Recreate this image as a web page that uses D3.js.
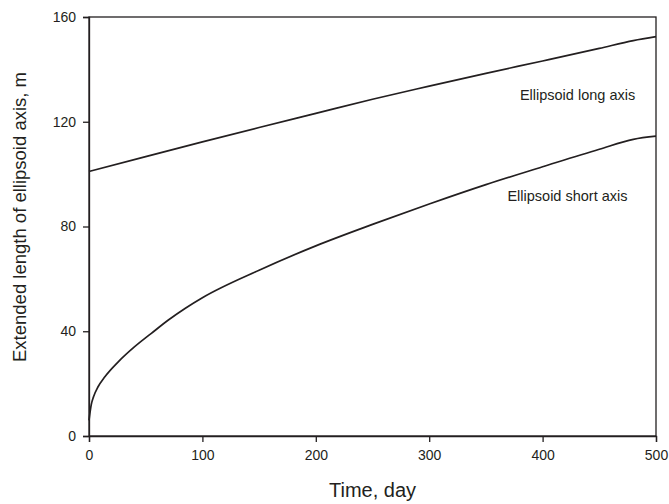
<!DOCTYPE html>
<html>
<head>
<meta charset="utf-8">
<script src="https://cdn.jsdelivr.net/npm/d3@7"></script>
<style>
  body { margin: 0; background: #fff; }
  svg { display: block; font-family: "Liberation Sans", Arial, sans-serif; }
</style>
</head>
<body>
<svg id="chart"></svg>
<script>
const width = 669;
const height = 504;
const margin = { left: 89, right: 13, top: 17, bottom: 68 };

const innerWidth  = width  - margin.left - margin.right;
const innerHeight = height - margin.top  - margin.bottom;

// values
const longDays  = [0, 50, 100, 150, 200, 250, 300, 350, 400, 450, 480, 500];
const longAxis  = [101, 106.7, 112.3, 117.8, 123.2, 128.6, 133.6, 138.5, 143.2, 148, 151, 152.5];

const shortDays = [0, 2, 4, 8, 14, 26, 40, 55, 70, 85, 100, 150, 200, 250, 300, 350, 400, 450, 480, 500];
const shortAxis = [6, 12, 15, 18.8, 22.6, 28.4, 34, 39.2, 44.3, 48.8, 52.8, 63.3, 72.6, 80.8, 88.6, 96, 102.8, 109.5, 113.3, 114.5];

const xTicks = [0, 100, 200, 300, 400, 500];
const yTicks = [0, 40, 80, 120, 160];

const ink = "#231f20";

const svg = d3.select("#chart")
  .attr("width", width)
  .attr("height", height);

const g = svg.append("g")
  .attr("transform", `translate(${margin.left},${margin.top})`);

const x = d3.scaleLinear().domain([0, 500]).range([0, innerWidth]);
const y = d3.scaleLinear().domain([0, 160]).range([innerHeight, 0]);

// frame
g.append("rect")
  .attr("width", innerWidth)
  .attr("height", innerHeight)
  .attr("fill", "none")
  .attr("stroke", ink)
  .attr("stroke-width", 1.3);

const xAxis = g.append("g")
  .attr("transform", `translate(0,${innerHeight})`)
  .call(d3.axisBottom(x).tickValues(xTicks).tickSize(6).tickPadding(8));

const yAxis = g.append("g")
  .call(d3.axisLeft(y).tickValues(yTicks).tickSize(6).tickPadding(7));

[xAxis, yAxis].forEach(a => {
  a.select(".domain").attr("stroke", ink).attr("stroke-width", 1.3);
  a.selectAll(".tick line").attr("stroke", ink).attr("stroke-width", 1.3);
  a.selectAll(".tick text")
    .attr("fill", ink)
    .style("font-size", "14px")
    .style("font-family", "Liberation Sans, Arial, sans-serif");
});

const line = d3.line()
  .x(d => x(d[0]))
  .y(d => y(d[1]))
  .curve(d3.curveMonotoneX);

const series = [
  d3.zip(longDays, longAxis),
  d3.zip(shortDays, shortAxis)
];

g.selectAll("path.series")
  .data(series)
  .join("path")
  .attr("class", "series")
  .attr("d", line)
  .attr("fill", "none")
  .attr("stroke", ink)
  .attr("stroke-width", 1.7);

// labels
g.append("text")
  .attr("x", x(380))
  .attr("y", y(128.3))
  .attr("fill", ink)
  .style("font-size", "14.5px")
  .text("Ellipsoid long axis");

g.append("text")
  .attr("x", x(369))
  .attr("y", y(89.7))
  .attr("fill", ink)
  .style("font-size", "14.5px")
  .text("Ellipsoid short axis");

svg.append("text")
  .attr("x", margin.left + innerWidth / 2)
  .attr("y", 497)
  .attr("text-anchor", "middle")
  .attr("fill", ink)
  .style("font-size", "20px")
  .text("Time, day");

svg.append("text")
  .attr("transform", `translate(26,217) rotate(-90)`)
  .attr("text-anchor", "middle")
  .attr("fill", ink)
  .style("font-size", "18.5px")
  .text("Extended length of ellipsoid axis, m");
</script>
</body>
</html>
